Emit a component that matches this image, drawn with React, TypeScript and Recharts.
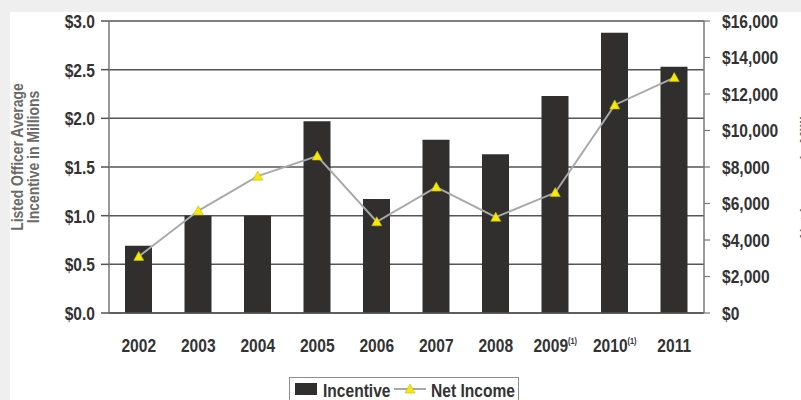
import React from 'react';
import {
  ComposedChart,
  Bar,
  Line,
  XAxis,
  YAxis,
  CartesianGrid,
  Legend,
} from 'recharts';

// values
const years = ['2002', '2003', '2004', '2005', '2006', '2007', '2008', '2009', '2010', '2011'];
const footnotes = ['', '', '', '', '', '', '', '(1)', '(1)', ''];
const incentive = [0.69, 1.0, 1.0, 1.97, 1.17, 1.78, 1.63, 2.23, 2.88, 2.53];
const netIncome = [3100, 5600, 7500, 8600, 5000, 6900, 5250, 6600, 11400, 12900];
const leftTicks = [0, 0.5, 1.0, 1.5, 2.0, 2.5, 3.0];
const rightTicks = [0, 2000, 4000, 6000, 8000, 10000, 12000, 14000, 16000];

const data = years.map((year, i) => ({
  year,
  incentive: incentive[i],
  netIncome: netIncome[i],
}));

// no narrow font installed, so Liberation Sans bold gets squeezed horizontally
const FONT = '"Liberation Sans", Arial, sans-serif';
const NARROW = 0.82;
const BAR_COLOR = '#312e2e';
const LINE_COLOR = '#a9a9a9';
const TRI_COLOR = '#f4e80c';
const GRID_COLOR = '#555555';
const TEXT_COLOR = '#333333';
const TITLE_COLOR = '#6a6a6a';

const textStyle = {
  fontFamily: FONT,
  fontWeight: 'bold' as const,
  fill: TEXT_COLOR,
};

const YearTick = ({ x, y, payload, index }: any) => {
  const note = footnotes[index];
  return (
    <g transform={`translate(${x},${y + 39}) scale(${NARROW},1)`}>
      <text x={0} y={0} textAnchor="middle" fontSize={19} {...textStyle}>
        {payload.value}
        {note ? (
          <tspan fontSize={9} dy={-8}>
            {note}
          </tspan>
        ) : null}
      </text>
    </g>
  );
};

const LeftTick = ({ x, y, payload }: any) => (
  <g transform={`translate(${x},${y}) scale(${NARROW},1)`}>
    <text x={0} y={0} dy="0.36em" textAnchor="end" fontSize={19} {...textStyle}>
      {`$${Number(payload.value).toFixed(1)}`}
    </text>
  </g>
);

const RightTick = ({ x, y, payload }: any) => (
  <g transform={`translate(${x},${y}) scale(${NARROW},1)`}>
    <text x={0} y={0} dy="0.36em" textAnchor="start" fontSize={19} {...textStyle}>
      {`$${Number(payload.value).toLocaleString('en-US')}`}
    </text>
  </g>
);

const Triangle = ({ cx, cy }: any) => {
  if (cx == null || cy == null) return null;
  return (
    <path
      d={`M${cx},${cy - 5} L${cx + 5},${cy + 4} L${cx - 5},${cy + 4} Z`}
      fill={TRI_COLOR}
      stroke="#c8bc00"
      strokeWidth={0.6}
    />
  );
};

const LeftTitle = () => (
  <g transform={`translate(25,157) rotate(-90) scale(${NARROW},1)`}>
    <text textAnchor="middle" fontFamily={FONT} fontWeight="bold" fontSize={17} fill={TITLE_COLOR}>
      <tspan x={0} dy={-2}>Listed Officer Average</tspan>
      <tspan x={0} dy={16}>Incentive in Millions</tspan>
    </text>
  </g>
);

// the reference crops this title at the right edge, only a sliver shows
const RightTitle = () => (
  <g transform={`translate(806,165) rotate(-90) scale(${NARROW},1)`}>
    <text
      textAnchor="middle"
      dominantBaseline="central"
      fontFamily={FONT}
      fontWeight="bold"
      fontSize={17}
      fill={TITLE_COLOR}
    >
      Net Income in Millions
    </text>
  </g>
);

const LegendBox = () => (
  <div style={{ border: '1px solid #8c8c8c', background: '#fff', lineHeight: 0 }}>
    <svg width={228} height={24}>
      <rect x={5} y={5} width={22} height={12} fill={BAR_COLOR} />
      <g transform={`translate(33,19) scale(${NARROW},1)`}>
        <text x={0} y={0} fontSize={19} {...textStyle}>Incentive</text>
      </g>
      <line x1={104} y1={11} x2={136} y2={11} stroke={LINE_COLOR} strokeWidth={2} />
      <path d="M120,6 L125,15 L115,15 Z" fill={TRI_COLOR} stroke="#c8bc00" strokeWidth={0.6} />
      <g transform={`translate(141,19) scale(${NARROW},1)`}>
        <text x={0} y={0} fontSize={19} {...textStyle}>Net Income</text>
      </g>
    </svg>
  </div>
);

export default function App() {
  return (
    <div style={{ position: 'absolute', left: 0, top: 0, width: 801, height: 400, background: '#efefef', overflow: 'hidden' }}>
      <div style={{ position: 'absolute', left: 10, top: 12, right: 0, bottom: 0, background: '#ffffff' }} />
      <div style={{ position: 'absolute', left: 0, top: 0 }}>
        <ComposedChart
          width={801}
          height={400}
          data={data}
          margin={{ top: 21, right: 7, left: 9, bottom: 27 }}
        >
          <CartesianGrid yAxisId="left" vertical={false} stroke={GRID_COLOR} strokeWidth={1.5} />
          <XAxis
            dataKey="year"
            height={60}
            interval={0}
            tickLine={false}
            tickSize={0}
            tickMargin={0}
            axisLine={{ stroke: GRID_COLOR, strokeWidth: 1.5 }}
            tick={<YearTick />}
          />
          <YAxis
            yAxisId="left"
            width={100}
            domain={[0, 3]}
            ticks={leftTicks}
            tickSize={8}
            tickMargin={6}
            axisLine={{ stroke: '#777777', strokeWidth: 1.5 }}
            tickLine={{ stroke: GRID_COLOR, strokeWidth: 1.5 }}
            tick={<LeftTick />}
            label={<LeftTitle />}
          />
          <YAxis
            yAxisId="right"
            orientation="right"
            width={90}
            domain={[0, 16000]}
            ticks={rightTicks}
            tickSize={6}
            tickMargin={12}
            axisLine={{ stroke: '#777777', strokeWidth: 1.5 }}
            tickLine={{ stroke: '#777777', strokeWidth: 1.2 }}
            tick={<RightTick />}
            label={<RightTitle />}
          />
          <Legend
            layout="horizontal"
            verticalAlign="middle"
            wrapperStyle={{ left: 289, top: 377, width: 'auto' }}
            content={<LegendBox />}
          />
          <Bar
            yAxisId="left"
            dataKey="incentive"
            name="Incentive"
            fill={BAR_COLOR}
            barSize={27}
            isAnimationActive={false}
          />
          <Line
            yAxisId="right"
            dataKey="netIncome"
            name="Net Income"
            stroke={LINE_COLOR}
            strokeWidth={2}
            dot={<Triangle />}
            activeDot={false}
            isAnimationActive={false}
          />
        </ComposedChart>
      </div>
    </div>
  );
}
